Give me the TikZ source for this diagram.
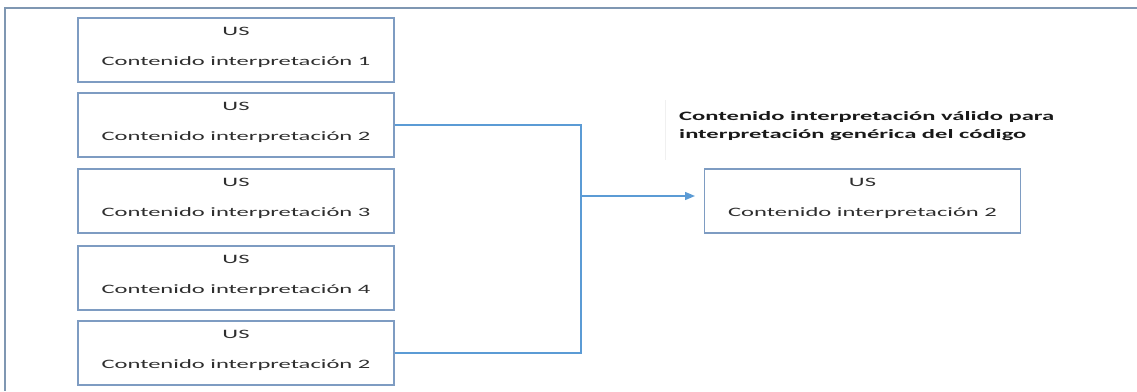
\documentclass[tikz,border=0pt]{standalone}
\usepackage{fontspec}
\setmainfont[FakeStretch=1.92]{Carlito}
\usetikzlibrary{arrows.meta}
\definecolor{framecol}{HTML}{7F97B2}
\definecolor{boxcol}{HTML}{7E9CC2}
\definecolor{linkcol}{HTML}{5B9BD5}
\definecolor{txtcol}{HTML}{2E2E2E}
\tikzset{
  usbox/.style={draw=boxcol, line width=1.4pt, minimum width=316pt, minimum height=64pt, inner sep=0pt},
  lbl/.style={anchor=base, inner sep=0pt, text=txtcol, font=\fontsize{12.8}{15}\selectfont},
  title/.style={anchor=base west, inner sep=0pt, text=black!90, font=\fontsize{12.8}{15}\selectfont\bfseries},
  link/.style={draw=linkcol, line width=1.4pt},
}
\newcommand{\usnode}[3]{%
  \node[usbox] (#1) at #2 {};
  \node[lbl] (#1-us) at ([yshift=-18pt]#1.north) {US};
  \node[lbl] (#1-txt) at ([yshift=-48.5pt]#1.north) {#3};
}
\begin{document}
\begin{tikzpicture}[x=1pt,y=-1pt]
  \useasboundingbox (0,0) rectangle (1137,391);
  % outer frame (top and left edges only)
  \coordinate (ftl) at (5,8);
  \coordinate (ftr) at (1137,8);
  \coordinate (fbl) at (5,391);
  \draw[framecol, line width=1.4pt] (ftr) -- (ftl) -- (fbl);
  % source stories
  \usnode{b1}{(236,50)}{Contenido interpretación 1}
  \usnode{b2}{(236,125)}{Contenido interpretación 2}
  \usnode{b3}{(236,201)}{Contenido interpretación 3}
  \usnode{b4}{(236,278)}{Contenido interpretación 4}
  \usnode{b5}{(236,353)}{Contenido interpretación 2}
  % resulting story
  \usnode{r}{(862.5,201)}{Contenido interpretación 2}
  % caption
  \draw[gray!12, line width=0.6pt] (665,100) -- (665,160);
  \node[title] (t1) at (679,120.5) {Contenido interpretación válido para};
  \node[title] (t2) at (679,138) {interpretación genérica del código};
  % merge connector
  \coordinate (j2) at (581,125);
  \coordinate (j5) at (581,353);
  \coordinate (jm) at (581,196);
  \coordinate (tip) at (695,196);
  \draw[link] (b2.east) -- (j2) -- (j5) -- (b5.east);
  \draw[link, -{Triangle[length=10pt,width=8pt]}] (jm) -- (tip);
\end{tikzpicture}
\end{document}
